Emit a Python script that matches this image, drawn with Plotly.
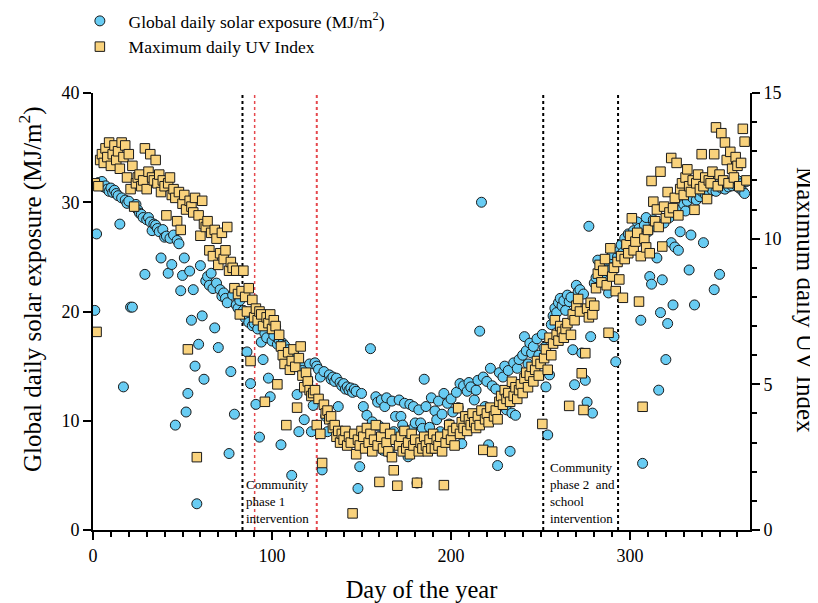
import plotly.graph_objects as go

# Day of year
days = list(range(1, 366))

# Global daily solar exposure (MJ/m2), days 1..365
solar = [
    20.1, 27.1, 31.8, 31.6, 31.9, 31.4, 31.5, 31.2, 31.0, 31.3,
    30.9, 31.1, 30.8, 30.6, 28.0, 30.4, 13.1, 30.2, 29.9, 30.1,
    20.4, 20.4, 29.6, 29.8, 29.3, 29.0, 28.9, 28.6, 23.4, 28.4,
    28.6, 28.2, 27.4, 28.0, 27.9, 27.6, 27.3, 24.9, 27.5, 26.8,
    26.9, 23.5, 26.7, 24.3, 27.0, 9.6, 26.5, 26.2, 21.9, 23.3,
    24.9, 10.8, 12.5, 23.7, 19.2, 22.0, 15.0, 2.4, 17.0, 24.2,
    19.6, 13.8, 22.8, 23.2, 22.4, 23.5, 22.1, 18.5, 22.6, 16.7,
    22.0, 21.4, 21.7, 21.2, 20.8, 7.0, 14.5, 21.5, 10.6, 20.6,
    20.3, 21.0, 19.8, 20.1, 19.4, 16.3, 19.0, 13.4, 18.7, 18.9,
    11.5, 18.4, 8.5, 17.2, 15.6, 18.0, 17.6, 13.9, 12.2, 17.3,
    17.8, 18.6, 17.0, 17.4, 7.8, 17.1, 16.9, 16.2, 16.5, 15.8,
    5.0, 15.4, 15.9, 12.4, 9.0, 15.0, 14.6, 10.1, 14.2, 13.6,
    15.2, 9.0, 11.4, 15.3, 15.0, 14.7, 14.0, 5.5, 14.5, 10.4,
    9.0, 14.2, 13.8, 14.0, 13.6, 13.9, 11.3, 13.5, 13.2, 13.4,
    12.9, 13.1, 12.8, 13.0, 12.6, 12.9, 12.7, 3.8, 5.8, 12.5,
    11.3, 8.8, 10.5, 9.3, 16.6, 9.9, 8.2, 12.2, 11.7, 9.5,
    11.9, 7.3, 11.3, 12.1, 8.7, 7.0, 11.8, 9.0, 10.4, 8.3,
    11.9, 10.4, 9.6, 11.6, 8.4, 6.7, 11.5, 9.2, 11.3, 9.8,
    4.3, 11.0, 9.8, 9.3, 13.8, 11.3, 7.9, 9.4, 12.1, 8.6,
    10.9, 10.1, 11.8, 9.0, 10.6, 12.5, 8.4, 11.6, 9.7, 12.0,
    10.8, 8.9, 12.6, 11.2, 13.4, 7.9, 13.2, 10.4, 12.7, 13.5,
    13.1, 9.6, 11.9, 12.8, 13.7, 18.2, 30.0, 14.0, 11.3, 13.6,
    7.8, 14.8, 13.2, 10.2, 12.9, 5.9, 14.4, 11.8, 14.0, 15.0,
    11.0, 14.6, 7.2, 10.7, 15.3, 10.5, 14.8, 15.6, 13.1, 16.0,
    17.7, 16.4, 15.2, 17.1, 16.2, 16.8, 14.9, 17.5, 16.0, 15.4,
    17.9, 16.7, 13.1, 8.7, 14.2, 18.8, 19.6, 20.3, 19.9, 20.8,
    21.2, 20.5, 21.0, 20.1, 21.5, 20.9, 21.3, 16.5, 13.3, 22.4,
    21.8, 22.0, 16.2, 21.6, 13.7, 11.7, 27.8, 17.7, 10.7, 22.6,
    23.1, 24.7, 23.6, 24.2, 22.9, 24.5, 23.8, 21.7, 24.9, 25.2,
    17.7, 15.4, 25.0, 25.6, 26.1, 25.4, 26.7, 26.0, 27.1, 25.8,
    26.5, 27.4, 26.9, 28.2, 27.6, 19.2, 6.1, 27.9, 28.6, 27.3,
    23.2, 22.5, 28.4, 27.8, 24.9, 12.8, 19.9, 22.9, 28.1, 15.6,
    18.9, 28.6, 26.3, 20.6, 25.9, 28.9, 25.6, 27.3, 29.4, 29.8,
    29.2, 30.1, 23.8, 27.0, 30.4, 20.6, 30.2, 30.8, 30.5, 31.0,
    26.3, 30.7, 31.2, 30.9, 31.4, 31.1, 22.0, 31.0, 31.5, 23.4,
    31.3, 31.6, 31.2, 31.8, 31.4, 31.7, 31.5, 31.9, 31.6, 32.0,
    31.3, 31.7, 31.0, 30.8, 31.9,
]

# Maximum daily UV Index, days 1..365
uv = [
    11.9, 6.8, 11.8, 12.7, 12.9, 12.6, 13.1, 12.8, 13.3, 12.5,
    12.9, 13.2, 12.7, 13.0, 12.4, 13.3, 12.8, 13.2, 12.1, 12.9,
    11.7, 12.5, 11.1, 11.9, 12.1, 12.2, 11.8, 12.0, 13.1, 11.7,
    12.3, 12.9, 12.1, 12.0, 12.7, 11.9, 12.2, 11.6, 12.0, 11.8,
    10.8, 11.9, 12.1, 11.5, 11.7, 11.4, 10.6, 11.6, 10.3, 11.2,
    11.5, 11.0, 6.2, 11.3, 11.1, 10.9, 11.4, 2.5, 10.8, 10.1,
    11.3, 10.5, 10.4, 10.6, 9.6, 10.2, 9.4, 10.3, 10.0, 9.1,
    9.5, 10.2, 9.3, 9.6, 10.4, 8.9, 9.2, 9.0, 8.3, 8.9,
    8.1, 7.4, 8.2, 8.9, 8.0, 7.5, 8.3, 5.8, 7.9, 7.3,
    7.6, 7.2, 7.5, 7.4, 7.0, 4.4, 7.3, 7.1, 7.4, 6.9,
    7.2, 7.0, 5.0, 6.7, 6.3, 6.0, 5.7, 3.6, 6.1, 5.5,
    5.8, 6.2, 5.6, 4.2, 5.9, 6.3, 5.3, 4.9, 5.4, 5.1,
    4.8, 4.6, 4.7, 4.8, 3.6, 4.5, 3.3, 2.3, 4.3, 4.0,
    4.1, 3.8, 3.9, 3.5, 3.6, 3.2, 3.4, 3.0, 3.3, 3.1,
    3.4, 2.9, 3.2, 3.0, 0.57, 3.3, 2.6, 3.1, 2.9, 3.4,
    3.2, 2.8, 3.5, 3.0, 3.3, 2.7, 3.1, 3.6, 2.9, 1.65,
    3.2, 2.8, 3.5, 3.0, 2.7, 3.3, 2.5, 2.05, 3.1, 1.52,
    2.9, 3.2, 2.7, 3.4, 2.8, 3.0, 2.6, 3.3, 2.9, 3.1,
    1.62, 2.7, 3.0, 2.8, 3.2, 2.9, 2.7, 3.1, 2.8, 3.3,
    2.8, 3.1, 2.9, 3.2, 2.7, 1.54, 3.0, 3.3, 3.6, 3.1,
    3.4, 2.9, 3.5, 4.18, 3.3, 3.7, 3.5, 3.9, 3.4, 3.8,
    3.6, 4.0, 3.7, 3.5, 3.9, 3.6, 4.1, 2.75, 3.8, 4.0,
    3.7, 4.2, 2.69, 3.9, 4.1, 3.8, 4.4, 4.6, 4.3, 4.8,
    4.5, 4.7, 4.4, 5.09, 4.6, 4.9, 4.5, 4.8, 5.0, 4.7,
    5.2, 5.4, 4.9, 5.3, 5.6, 5.1, 5.5, 5.8, 5.3, 5.7,
    3.64, 5.9, 6.2, 5.5, 6.6, 6.0, 6.4, 7.2, 6.7, 6.5,
    7.0, 6.8, 6.6, 6.9, 7.1, 4.26, 6.7, 7.4, 7.2, 7.7,
    7.93, 7.5, 5.38, 4.12, 6.07, 7.6, 7.3, 7.8, 7.4, 7.7,
    8.3, 8.8, 9.1, 8.5, 8.9, 9.3, 8.4, 6.77, 9.67, 8.7,
    9.0, 8.2, 9.2, 8.6, 9.4, 7.97, 9.3, 9.8, 9.5, 10.1,
    10.7, 9.6, 9.9, 10.2, 7.84, 9.4, 4.23, 10.0, 9.7, 10.3,
    9.5, 11.98, 11.27, 10.6, 11.0, 10.4, 12.3, 9.73, 11.1, 10.7,
    11.6, 10.9, 12.77, 11.05, 11.4, 12.6, 10.8, 11.7, 11.9, 11.5,
    12.1, 12.38, 11.8, 11.6, 12.0, 10.99, 11.9, 12.2, 11.7, 12.9,
    11.8, 12.1, 11.36, 12.0, 11.9, 12.3, 12.9, 13.82, 11.8, 12.2,
    13.62, 12.0, 13.3, 12.7, 11.9, 12.98, 12.4, 12.1, 12.8, 12.5,
    11.8, 12.6, 13.77, 13.33, 12.0,
]

# Intervention markers (day of year)
black_lines = [83.5, 251.5, 293.3]
red_lines = [90.3, 125.0]
annot_texts = ["Community<br>phase 1<br>intervention",
               "Community<br>phase 2  and<br>school<br>intervention"]
annot_days = [84.5, 254.0]

FONT = "Liberation Serif"

# Page is rendered with an 8 px body margin; figure sized to fit the window.
W, H = 810, 595
L, R, T, B = 85, 68, 85, 73
OFF = 8
pw, ph = W - L - R, H - T - B


def px_to_paper(px, py):
    return (px - OFF - L) / pw, 1 - (py - OFF - T) / ph


fig = go.Figure()
fig.add_trace(go.Scatter(
    x=days, y=solar, mode="markers",
    name="&nbsp;&nbsp;Global daily solar exposure (MJ/m<sup>2</sup>)",
    legendgroup="a",
    marker=dict(symbol="circle", size=10, color="#68CCF3",
                line=dict(color="#1a1a1a", width=1)),
    yaxis="y",
))
fig.add_trace(go.Scatter(
    x=days, y=uv, mode="markers",
    name="&nbsp;&nbsp;Maximum daily UV Index",
    legendgroup="b",
    marker=dict(symbol="square", size=9.5, color="#F9D27C",
                line=dict(color="#1a1a1a", width=1)),
    yaxis="y2",
))

shapes = []
for d in black_lines:
    shapes.append(dict(type="line", xref="x", yref="paper", x0=d, x1=d, y0=0, y1=1,
                       line=dict(color="black", width=2, dash="dot"), layer="below"))
for i, d in enumerate(red_lines):
    shapes.append(dict(type="line", xref="x", yref="paper", x0=d, x1=d, y0=0, y1=1,
                       line=dict(color="#E5484D", width=1.5 if i == 0 else 2, dash="dot"),
                       layer="below"))

annotations = []
for t, d in zip(annot_texts, annot_days):
    annotations.append(dict(text=t, x=d, y=0.004, xref="x", yref="paper",
                            xanchor="left", yanchor="bottom", align="left",
                            showarrow=False, font=dict(family=FONT, size=13, color="black")))

lx, ly = px_to_paper(30, 289)
annotations.append(dict(text="Global daily solar exposure (MJ/m<sup>2</sup>)",
                        x=lx, y=ly, xref="paper", yref="paper", showarrow=False,
                        xanchor="center", yanchor="middle",
                        textangle=-90, font=dict(family=FONT, size=25, color="black")))
rx, ry = px_to_paper(806, 300)
annotations.append(dict(text="Maximum daily UV Index",
                        x=rx, y=ry, xref="paper", yref="paper", showarrow=False,
                        xanchor="center", yanchor="middle",
                        textangle=90, font=dict(family=FONT, size=25, color="black")))

axis_common = dict(showline=True, linecolor="black", linewidth=2, showgrid=False,
                   zeroline=False, ticks="outside", ticklen=8, tickwidth=2,
                   tickcolor="black", tickfont=dict(family=FONT, size=18, color="black"))

legend_top = px_to_paper(0, 3)[1]

fig.update_layout(
    width=W, height=H,
    margin=dict(l=L, r=R, t=T, b=B, autoexpand=False),
    paper_bgcolor="white", plot_bgcolor="white",
    font=dict(family=FONT, color="black"),
    showlegend=True,
    legend=dict(x=-0.02, y=legend_top, xanchor="left", yanchor="top",
                font=dict(family=FONT, size=17.5, color="black"),
                tracegroupgap=0, bgcolor="rgba(0,0,0,0)"),
    xaxis=dict(range=[0, 367], tick0=0, dtick=100,
               minor=dict(dtick=10, tick0=0, ticks="outside", ticklen=5, tickwidth=2,
                          tickcolor="black"),
               title=dict(text="Day of the year", font=dict(family=FONT, size=24.5),
                          standoff=16),
               **axis_common),
    yaxis=dict(range=[0, 40], tick0=0, dtick=10, **axis_common),
    yaxis2=dict(range=[0, 15], tick0=0, dtick=5, overlaying="y", side="right",
                minor=dict(dtick=1, tick0=0, ticks="outside", ticklen=5, tickwidth=2,
                           tickcolor="black"),
                **axis_common),
    shapes=shapes,
    annotations=annotations,
)

fig.write_html("out.html")
